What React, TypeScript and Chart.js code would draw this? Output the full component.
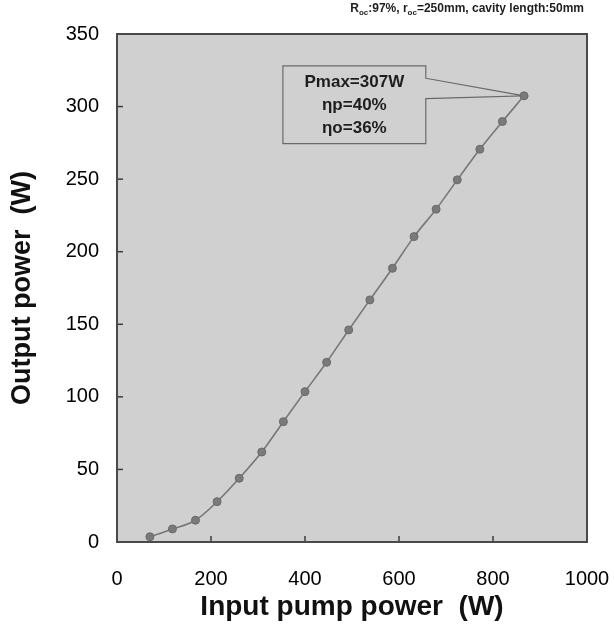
import React, { useEffect, useRef } from 'react';
import { Chart, registerables } from 'chart.js';

Chart.register(...registerables);

// ---- data ----
const pumpPower = [70, 118, 167, 213, 260, 308, 354, 400, 446, 493, 538, 586, 632, 679, 724, 772, 820, 866];
const outputPower = [3.6, 9, 15, 27.8, 43.9, 62, 82.9, 103.6, 123.8, 146.1, 166.8, 188.6, 210.4, 229.3, 249.5, 270.6, 289.7, 307.4];
const xTickValues = [0, 200, 400, 600, 800, 1000];
const yTickValues = [0, 50, 100, 150, 200, 250, 300, 350];
const calloutLines = ['Pmax=307W', 'ηp=40%', 'ηo=36%'];
const titleSegments: { text: string; sub: boolean }[] = [
  { text: 'R', sub: false },
  { text: 'oc', sub: true },
  { text: ':97%, r', sub: false },
  { text: 'oc', sub: true },
  { text: '=250mm, cavity length:50mm', sub: false },
];

const FONT = '"Liberation Sans", Arial, Helvetica, sans-serif';
const PLOT_BG = '#d0d0d0';

const decorPlugin = {
  id: 'decor',
  beforeDatasetsDraw(chart: any) {
    const { ctx, chartArea: a, scales } = chart;
    const xs = scales.x;
    const ys = scales.y;
    ctx.save();
    // inner tick marks
    ctx.strokeStyle = '#3c3c3c';
    ctx.lineWidth = 1.5;
    xTickValues.forEach((v) => {
      if (v === xs.min || v === xs.max) return;
      const px = xs.getPixelForValue(v);
      ctx.beginPath();
      ctx.moveTo(px, a.bottom);
      ctx.lineTo(px, a.bottom - 6);
      ctx.stroke();
    });
    yTickValues.forEach((v) => {
      if (v === ys.min || v === ys.max) return;
      const py = ys.getPixelForValue(v);
      ctx.beginPath();
      ctx.moveTo(a.left, py);
      ctx.lineTo(a.left + 6, py);
      ctx.stroke();
    });

    // callout box with pointer to the maximum point
    const last = pumpPower.length - 1;
    const tipX = xs.getPixelForValue(pumpPower[last]);
    const tipY = ys.getPixelForValue(outputPower[last]);
    const x0 = xs.getPixelForValue(353);
    const x1 = xs.getPixelForValue(657);
    const yt = ys.getPixelForValue(328);
    const yb = ys.getPixelForValue(274.5);
    const w1 = ys.getPixelForValue(319.5);
    const w2 = ys.getPixelForValue(305.5);
    ctx.beginPath();
    ctx.moveTo(x1, w1);
    ctx.lineTo(tipX, tipY);
    ctx.lineTo(x1, w2);
    ctx.lineTo(x1, yb);
    ctx.lineTo(x0, yb);
    ctx.lineTo(x0, yt);
    ctx.lineTo(x1, yt);
    ctx.closePath();
    ctx.fillStyle = PLOT_BG;
    ctx.fill();
    ctx.strokeStyle = '#6a6a6a';
    ctx.lineWidth = 1.2;
    ctx.stroke();

    ctx.fillStyle = '#1e1e1e';
    ctx.font = `bold 17px ${FONT}`;
    ctx.textAlign = 'center';
    ctx.textBaseline = 'middle';
    const cx = (x0 + x1) / 2;
    const cy = (yt + yb) / 2 + 1;
    calloutLines.forEach((t, i) => {
      ctx.fillText(t, cx, cy + (i - 1) * 23);
    });
    ctx.restore();
  },
  afterDraw(chart: any) {
    const { ctx, chartArea: a } = chart;
    ctx.save();
    // frame
    ctx.strokeStyle = '#4a4a4a';
    ctx.lineWidth = 2;
    ctx.strokeRect(a.left, a.top, a.right - a.left, a.bottom - a.top);

    // top-right caption with subscripts
    const mainFont = `bold 12px ${FONT}`;
    const subFont = `bold 8px ${FONT}`;
    let total = 0;
    titleSegments.forEach((s) => {
      ctx.font = s.sub ? subFont : mainFont;
      total += ctx.measureText(s.text).width;
    });
    let x = 584 - total;
    const baseY = 12;
    ctx.fillStyle = '#1e1e1e';
    ctx.textAlign = 'left';
    ctx.textBaseline = 'alphabetic';
    titleSegments.forEach((s) => {
      ctx.font = s.sub ? subFont : mainFont;
      ctx.fillText(s.text, x, s.sub ? baseY + 3 : baseY);
      x += ctx.measureText(s.text).width;
    });
    ctx.restore();
  },
  beforeDraw(chart: any) {
    const { ctx, chartArea: a } = chart;
    ctx.save();
    ctx.fillStyle = '#ffffff';
    ctx.fillRect(0, 0, chart.width, chart.height);
    ctx.fillStyle = PLOT_BG;
    ctx.fillRect(a.left, a.top, a.right - a.left, a.bottom - a.top);
    ctx.restore();
  },
};

export default function App() {
  const ref = useRef<HTMLCanvasElement | null>(null);
  useEffect(() => {
    if (!ref.current) return;
    const chart = new Chart(ref.current, {
      type: 'line',
      data: {
        datasets: [
          {
            data: pumpPower.map((x, i) => ({ x, y: outputPower[i] })),
            borderColor: '#777777',
            borderWidth: 1.6,
            backgroundColor: '#7a7a7a',
            pointBackgroundColor: '#7a7a7a',
            pointBorderColor: '#6a6a6a',
            pointBorderWidth: 1,
            pointRadius: 4,
            cubicInterpolationMode: 'monotone',
            fill: false,
          },
        ],
      },
      options: {
        responsive: false,
        animation: false,
        layout: { padding: { left: 0, top: 34, right: 27, bottom: 0 } },
        plugins: { legend: { display: false }, tooltip: { enabled: false }, title: { display: false } },
        scales: {
          x: {
            type: 'linear',
            min: 0,
            max: 1000,
            afterBuildTicks: (s: any) => {
              s.ticks = xTickValues.map((v) => ({ value: v }));
            },
            afterFit: (s: any) => {
              s.height = 85;
              s.paddingLeft = 0;
              s.paddingRight = 0;
            },
            grid: { display: false, drawTicks: false },
            border: { display: false },
            ticks: {
              color: '#000',
              font: { family: FONT, size: 20 },
              padding: 25,
              maxRotation: 0,
              callback: (v: any) => String(v),
            },
            title: {
              display: true,
              text: 'Input pump power  (W)',
              color: '#111',
              font: { family: FONT, size: 28, weight: 'bold' },
              padding: { top: 0, bottom: 3 },
            },
          },
          y: {
            type: 'linear',
            min: 0,
            max: 350,
            afterBuildTicks: (s: any) => {
              s.ticks = yTickValues.map((v) => ({ value: v }));
            },
            afterFit: (s: any) => {
              s.width = 117;
              s.paddingTop = 0;
              s.paddingBottom = 0;
            },
            grid: { display: false, drawTicks: false },
            border: { display: false },
            ticks: { color: '#000', font: { family: FONT, size: 20 }, padding: 18, callback: (v: any) => String(v) },
            title: {
              display: true,
              text: 'Output power  (W)',
              color: '#111',
              font: { family: FONT, size: 27, weight: 'bold' },
              padding: { top: 6, bottom: 0 },
            },
          },
        },
      },
      plugins: [decorPlugin],
    } as any);
    return () => chart.destroy();
  }, []);
  return (
    <div style={{ position: 'absolute', left: 0, top: 0, width: 614, height: 627, background: '#fff' }}>
      <canvas ref={ref} width={614} height={627} style={{ display: 'block' }} />
    </div>
  );
}
